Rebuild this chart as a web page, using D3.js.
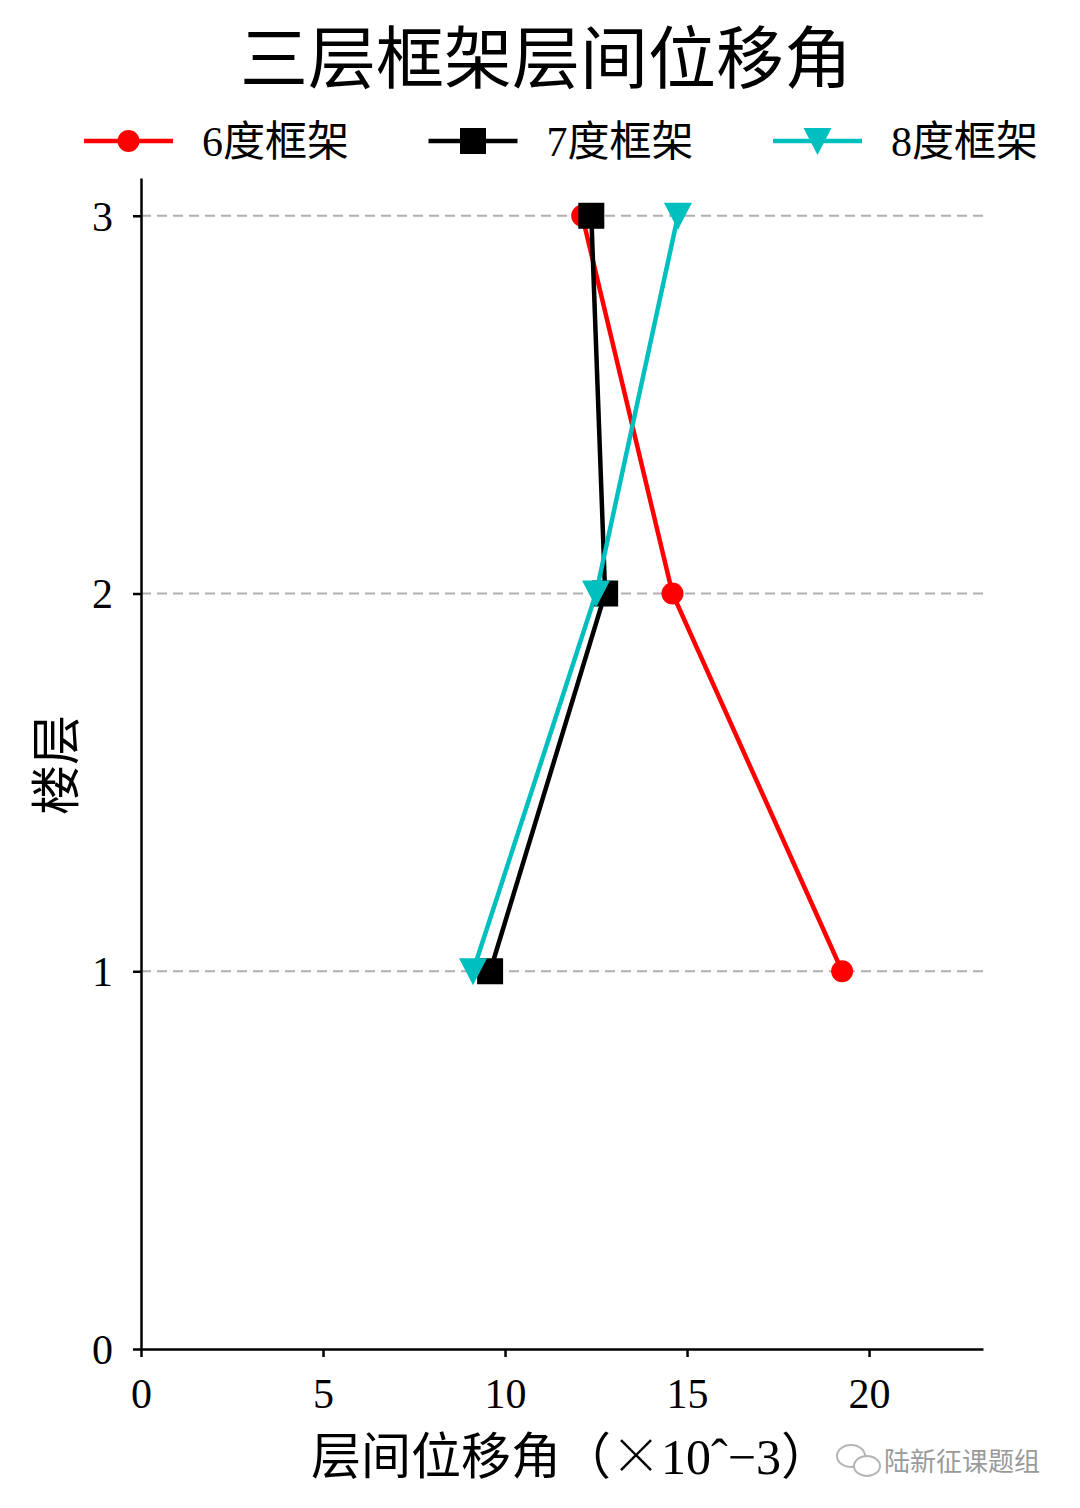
<!DOCTYPE html>
<html>
<head>
<meta charset="utf-8">
<script src="https://cdn.jsdelivr.net/npm/d3@7"></script>
<style>
  body { margin: 0; background: #fff; }
  text { font-family: "Liberation Serif", "Noto Sans CJK SC", serif; }
</style>
</head>
<body>
<svg width="1080" height="1508"></svg>
<script>
var floors = [1, 2, 3];
var seriesNames = ["6度框架", "7度框架", "8度框架"];
var seriesColors = ["#ff0000", "#000000", "#00bfbf"];
var seriesMarkers = ["circle", "square", "triangle"];
var drift6 = [19.26, 14.6, 12.12];
var drift7 = [9.59, 12.75, 12.37];
var drift8 = [9.12, 12.5, 14.75];
var xTicks = [0, 5, 10, 15, 20];
var yTicks = [0, 1, 2, 3];

var series = [drift6, drift7, drift8].map(function(v, i) {
  return {name: seriesNames[i], color: seriesColors[i], marker: seriesMarkers[i],
    values: v.map(function(d, j) { return {x: d, y: floors[j]}; })};
});

var svg = d3.select("svg");

var x = d3.scaleLinear().domain([0, 23.13]).range([141, 983]);
var y = d3.scaleLinear().domain([0, 3.1]).range([1349, 178]);

// grid
svg.append("g")
  .selectAll("line")
    .data(floors)
  .enter().append("line")
    .attr("x1", x(0)).attr("x2", x(23.13))
    .attr("y1", function(d) { return y(d); })
    .attr("y2", function(d) { return y(d); })
    .attr("stroke", "#b0b0b0")
    .attr("stroke-width", 2)
    .attr("stroke-dasharray", "10,6");

// axes
var gx = svg.append("g")
    .attr("transform", "translate(0," + y(0) + ")")
    .call(d3.axisBottom(x).tickValues(xTicks).tickSize(8).tickPadding(21).tickSizeOuter(0));
var gy = svg.append("g")
    .attr("transform", "translate(" + x(0) + ",0)")
    .call(d3.axisLeft(y).tickValues(yTicks).tickFormat(d3.format("d")).tickSize(8).tickPadding(20).tickSizeOuter(0));

[gx, gy].forEach(function(g) {
  g.select(".domain").attr("stroke", "#000").attr("stroke-width", 2.5);
  g.selectAll(".tick line").attr("stroke", "#000").attr("stroke-width", 2.5);
  g.selectAll(".tick text")
      .attr("fill", "#000")
      .style("font-family", "Liberation Serif, serif")
      .style("font-size", "42px");
});
gy.selectAll(".tick text").attr("dy", "0.34em");

function drawMarker(sel, type, color, s) {
  if (type === "circle") {
    sel.append("circle").attr("r", 11 * s).attr("fill", color);
  } else if (type === "square") {
    sel.append("rect").attr("x", -13 * s).attr("y", -13 * s)
      .attr("width", 26 * s).attr("height", 26 * s).attr("fill", color);
  } else {
    sel.append("path")
      .attr("d", "M" + (-14 * s) + "," + (-13 * s) + "L" + (14 * s) + "," + (-13 * s) + "L0," + (14 * s) + "Z")
      .attr("fill", color);
  }
}

var line = d3.line()
    .x(function(d) { return x(d.x); })
    .y(function(d) { return y(d.y); });

series.forEach(function(s) {
  var g = svg.append("g");
  g.append("path")
      .attr("d", line(s.values))
      .attr("fill", "none")
      .attr("stroke", s.color)
      .attr("stroke-width", 4.5);
  g.selectAll("g.pt")
      .data(s.values)
    .enter().append("g")
      .attr("class", "pt")
      .attr("transform", function(d) { return "translate(" + x(d.x) + "," + y(d.y) + ")"; })
      .each(function() { drawMarker(d3.select(this), s.marker, s.color, 1); });
});

// legend
var legend = svg.append("g")
  .selectAll("g")
    .data(series)
  .enter().append("g")
    .attr("transform", function(d, i) { return "translate(" + (84 + i * 344.5) + ",141)"; });

legend.append("line")
    .attr("x1", 0).attr("x2", 89)
    .attr("stroke", function(d) { return d.color; })
    .attr("stroke-width", 4.5);
legend.each(function(d) {
  var m = d3.select(this).append("g").attr("transform", "translate(44.5,0)");
  drawMarker(m, d.marker, d.color, 1);
});
legend.append("text")
    .attr("x", 118)
    .attr("dy", "0.36em")
    .style("font-size", "42px")
    .text(function(d) { return d.name; });

// title
svg.append("text")
    .attr("x", 546).attr("y", 83)
    .attr("text-anchor", "middle")
    .style("font-size", "68px")
    .text("三层框架层间位移角");

// axis labels
var xl = svg.append("text")
    .attr("x", 571).attr("y", 1474)
    .attr("text-anchor", "middle")
    .style("font-size", "50px");
xl.append("tspan").text("层间位移角（");
xl.append("tspan").style("font-family", "Noto Sans CJK SC, sans-serif").style("font-weight", 300).text("×");
xl.append("tspan").text("10ˆ−3）");

svg.append("text")
    .attr("transform", "translate(74,765) rotate(-90)")
    .attr("text-anchor", "middle")
    .style("font-size", "50px")
    .text("楼层");

// watermark
var wm = svg.append("g").attr("transform", "translate(836,1446)");
wm.append("ellipse").attr("cx", 15).attr("cy", 10).attr("rx", 14).attr("ry", 11)
    .attr("fill", "none").attr("stroke", "#b5b5b5").attr("stroke-width", 2);
wm.append("ellipse").attr("cx", 31).attr("cy", 20).attr("rx", 13).attr("ry", 10)
    .attr("fill", "#fff").attr("stroke", "#b5b5b5").attr("stroke-width", 2);
svg.append("text")
    .attr("x", 884).attr("y", 1471)
    .style("font-family", "Noto Sans CJK SC, sans-serif")
    .style("font-size", "26px")
    .attr("fill", "#9a9a9a")
    .text("陆新征课题组");
</script>
</body>
</html>
